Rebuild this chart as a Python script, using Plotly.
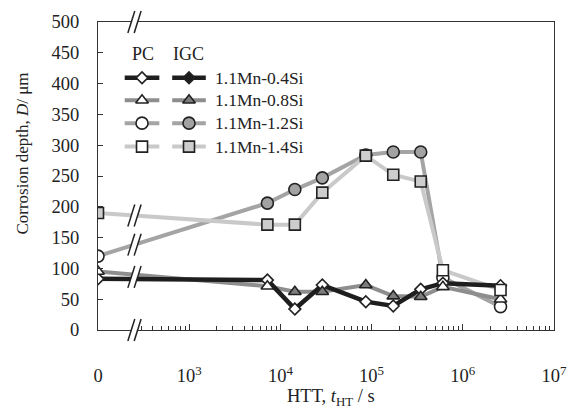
import math
import plotly.graph_objects as go

# ---------------- data ----------------
hours = [0, 2, 4, 8, 24, 48, 96, 168, 720]
t_seconds = [h * 3600 for h in hours]

depth_04Si = [83, 81, 34, 73, 46, 39, 66, 76, 72]
depth_08Si = [95, 71, 62, 62, 73, 55, 54, 70, 50]
depth_12Si = [120, 206, 228, 247, 284, 289, 289, 85, 38]
depth_14Si = [190, 171, 171, 223, 283, 252, 241, 97, 65]

morph_04Si = ["PC", "PC", "PC", "PC", "PC", "PC", "PC", "PC", "PC"]
morph_08Si = ["PC", "PC", "IGC", "IGC", "IGC", "IGC", "IGC", "PC", "PC"]
morph_12Si = ["PC", "IGC", "IGC", "IGC", "IGC", "IGC", "IGC", "PC", "PC"]
morph_14Si = ["IGC", "IGC", "IGC", "IGC", "IGC", "IGC", "IGC", "PC", "PC"]

alloy_names = ["1.1Mn-0.4Si", "1.1Mn-0.8Si", "1.1Mn-1.2Si", "1.1Mn-1.4Si"]
x_tick_vals = [1e3, 1e4, 1e5, 1e6, 1e7]
y_tick_vals = list(range(0, 501, 50))

# t = 0 is drawn at the left end of the broken log axis
ZERO_AT = 100.0

# ---------------- styles ----------------
EDGE = "#222222"
styles = {
    "1.1Mn-0.4Si": dict(line="#1e1e1e", symbol="diamond", size=9, fill="#1e1e1e", width=4.5),
    "1.1Mn-0.8Si": dict(line="#8e8e8e", symbol="triangle-up", size=11, fill="#7d7d7d", width=4),
    "1.1Mn-1.2Si": dict(line="#a4a4a4", symbol="circle", size=12, fill="#a2a2a2", width=4),
    "1.1Mn-1.4Si": dict(line="#c9c9c9", symbol="square", size=11, fill="#cdcdcd", width=4),
}
series = {
    "1.1Mn-0.4Si": (depth_04Si, morph_04Si),
    "1.1Mn-0.8Si": (depth_08Si, morph_08Si),
    "1.1Mn-1.2Si": (depth_12Si, morph_12Si),
    "1.1Mn-1.4Si": (depth_14Si, morph_14Si),
}

xplot = [ZERO_AT if t == 0 else t for t in t_seconds]

fig = go.Figure()

# lines
for name in ["1.1Mn-1.2Si", "1.1Mn-0.8Si", "1.1Mn-1.4Si", "1.1Mn-0.4Si"]:
    d, _ = series[name]
    s = styles[name]
    fig.add_trace(go.Scatter(x=xplot, y=d, mode="lines",
                             line=dict(color=s["line"], width=s["width"]),
                             showlegend=False, hoverinfo="skip"))

# markers
for name in ["1.1Mn-1.2Si", "1.1Mn-0.4Si", "1.1Mn-0.8Si", "1.1Mn-1.4Si"]:
    d, m = series[name]
    s = styles[name]
    for kind in ["IGC", "PC"]:
        xs = [x for x, k in zip(xplot, m) if k == kind]
        ys = [y for y, k in zip(d, m) if k == kind]
        if not xs:
            continue
        fill = "white" if kind == "PC" else s["fill"]
        fig.add_trace(go.Scatter(x=xs, y=ys, mode="markers", name=f"{name} {kind}",
                                 marker=dict(symbol=s["symbol"], size=s["size"], color=fill,
                                             line=dict(color=EDGE, width=1.6)),
                                 showlegend=False))

# ---------------- manual legend (two columns: PC / IGC) ----------------
FONT = "Liberation Serif, Times New Roman, serif"
leg_rows = [77, 99.5, 122.5, 146]
for name, yrow in zip(alloy_names, leg_rows):
    s = styles[name]
    for kind, (xa, xb, xm) in zip(["PC", "IGC"], [(125, 160, 142.5), (173, 207, 190)]):
        fill = "white" if kind == "PC" else s["fill"]
        fig.add_trace(go.Scatter(x=[xa, xb], y=[yrow, yrow], xaxis="x2", yaxis="y2",
                                 mode="lines", line=dict(color=s["line"], width=s["width"]),
                                 showlegend=False, hoverinfo="skip"))
        fig.add_trace(go.Scatter(x=[xm], y=[yrow], xaxis="x2", yaxis="y2", mode="markers",
                                 marker=dict(symbol=s["symbol"], size=s["size"], color=fill,
                                             line=dict(color=EDGE, width=1.6)),
                                 showlegend=False, hoverinfo="skip"))

annotations = [
    dict(x=143, y=53, xref="x2", yref="y2", text="PC", showarrow=False,
         font=dict(size=18, family=FONT, color="#222")),
    dict(x=189, y=53, xref="x2", yref="y2", text="IGC", showarrow=False,
         font=dict(size=18, family=FONT, color="#222")),
]
for name, yrow in zip(alloy_names, leg_rows):
    annotations.append(dict(x=214, y=yrow, xref="x2", yref="y2", text=name, xanchor="left",
                            showarrow=False, font=dict(size=17.5, family=FONT, color="#222")))

# axis titles
annotations.append(dict(x=-0.165, y=0.572, xref="paper", yref="paper", xanchor="center",
                        yanchor="middle",
                        text="Corrosion depth, <i>D</i>/ μm", textangle=-90, showarrow=False,
                        font=dict(size=17, family=FONT, color="#222")))
annotations.append(dict(x=0.51, y=-0.22, xref="paper", yref="paper", xanchor="center",
                        yanchor="middle",
                        text="HTT, <i>t</i><sub>HT</sub> / s", showarrow=False,
                        font=dict(size=18.5, family=FONT, color="#222")))

# ---------------- axis-break marks ----------------
W, H = 579 - 98 - 20, 410 - 21 - 80
LOG_BREAK = 2.40
xc = (LOG_BREAK - math.log10(ZERO_AT)) / (7 - math.log10(ZERO_AT))
shapes = []


def add_break(yp):
    dx, dy, g = 3.5 / W, 11 / H, 3.2 / W
    shapes.append(dict(type="path", xref="paper", yref="paper", layer="above",
                       path=(f"M{xc-g-dx},{yp-dy} L{xc+g-dx},{yp-dy} "
                             f"L{xc+g+dx},{yp+dy} L{xc-g+dx},{yp+dy} Z"),
                       fillcolor="white", line=dict(width=0)))
    for off in (-g, g):
        shapes.append(dict(type="line", xref="paper", yref="paper", layer="above",
                           x0=xc + off - dx, y0=yp - dy, x1=xc + off + dx, y1=yp + dy,
                           line=dict(color="#222", width=1.5)))


add_break(0.0)
add_break(1.0)
# where each data line crosses the break
ybreaks = []
for name in alloy_names:
    d, _ = series[name]
    l0, l1 = math.log10(xplot[0]), math.log10(xplot[1])
    frac = (LOG_BREAK - l0) / (l1 - l0)
    ybreaks.append(d[0] + frac * (d[1] - d[0]))
ybreaks.sort()
groups = []
for yb in ybreaks:
    if groups and yb - groups[-1][-1] < 12:
        groups[-1].append(yb)
    else:
        groups.append([yb])
for gp in groups:
    add_break(sum(gp) / len(gp) / 500)

minor_vals = [k * 10 ** e for e in range(2, 7) for k in range(2, 10) if k * 10 ** e > 250]

fig.update_layout(
    width=579, height=410,
    margin=dict(l=98, r=20, t=21, b=80),
    paper_bgcolor="white", plot_bgcolor="white",
    font=dict(family=FONT, size=18, color="#222"),
    xaxis=dict(type="log", range=[2, 7], tickmode="array",
               tickvals=[ZERO_AT] + x_tick_vals,
               ticktext=["0"] + [f"10<sup>{int(round(math.log10(v)))}</sup>" for v in x_tick_vals],
               ticks="inside", ticklen=6, tickwidth=1, tickcolor="#333",
               minor=dict(ticks="inside", ticklen=3.5, tickwidth=1, tickcolor="#333",
                          tickmode="array", tickvals=minor_vals, showgrid=False),
               showline=True, linecolor="#333", linewidth=1.3, mirror=True,
               showgrid=False, zeroline=False, ticklabelstandoff=29,
               tickfont=dict(size=18.5, family=FONT, color="#222")),
    yaxis=dict(range=[0, 500], tickmode="array", tickvals=y_tick_vals,
               ticks="inside", ticklen=5, tickwidth=1, tickcolor="#333",
               showline=True, linecolor="#333", linewidth=1.3, mirror=True,
               showgrid=False, zeroline=False, ticklabelstandoff=14,
               tickfont=dict(size=18.5, family=FONT, color="#222")),
    xaxis2=dict(range=[98, 559], overlaying="x", anchor="y2", visible=False, fixedrange=True),
    yaxis2=dict(range=[330, 21], overlaying="y", anchor="x2", visible=False, fixedrange=True),
    annotations=annotations,
    shapes=shapes,
    showlegend=False,
)

fig.write_html("out.html")
